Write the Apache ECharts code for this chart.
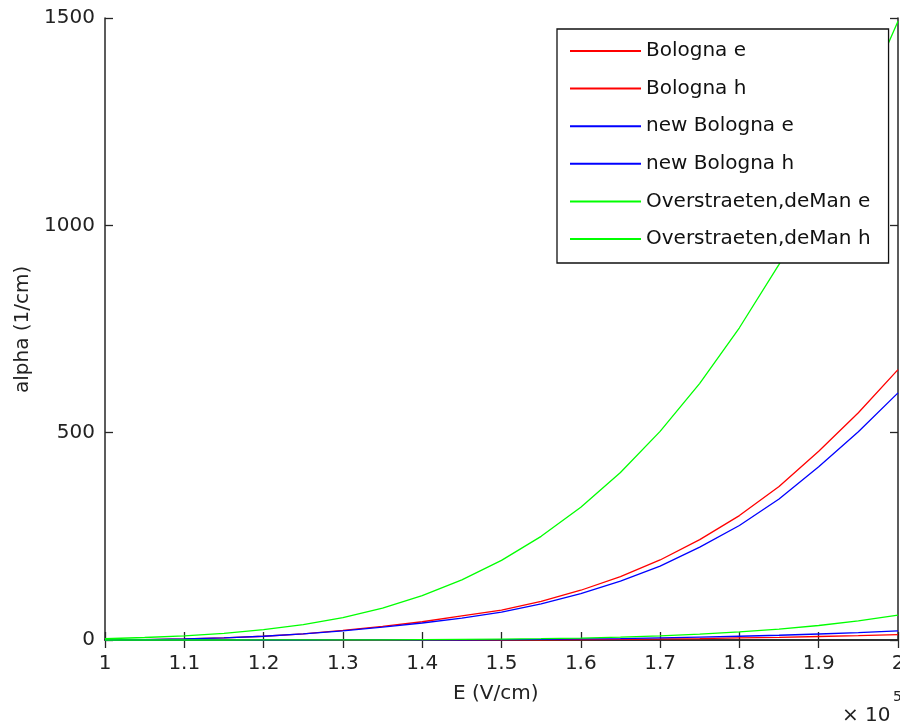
<!DOCTYPE html>
<html>
<head>
<meta charset="utf-8">
<script src="https://cdn.jsdelivr.net/npm/echarts@6/dist/echarts.min.js"></script>
<style>
  html, body { margin: 0; padding: 0; background: #fff; }
  #chart { width: 900px; height: 727px; }
</style>
</head>
<body>
<div id="chart"></div>
<script>
// Electric field samples, in units of 1e5 V/cm
const fieldE = [1.00, 1.05, 1.10, 1.15, 1.20, 1.25, 1.30, 1.35, 1.40, 1.45, 1.50,
                1.55, 1.60, 1.65, 1.70, 1.75, 1.80, 1.85, 1.90, 1.95, 2.00];

// Impact ionization coefficients alpha (1/cm)
const bolognaE = [0.5, 1, 2.5, 5, 9, 15, 23, 33, 44, 58, 72,
                  93, 120, 153, 193, 242, 300, 370, 455, 548, 652];
const bolognaH = [0, 0, 0, 0, 0, 0, 0, 0, 0.1, 0.2, 0.3,
                  0.6, 1, 1.7, 2.5, 3.5, 5, 6.5, 8.5, 10.5, 13];
const newBolognaE = [0.5, 1, 2.5, 5, 9, 15, 22, 31, 41, 53, 67,
                     87, 112, 142, 178, 224, 276, 340, 418, 502, 596];
const newBolognaH = [0, 0, 0, 0, 0, 0, 0.1, 0.2, 0.3, 0.5, 0.8,
                     1.5, 2.5, 3.5, 5, 7, 9, 11.5, 14.5, 18, 22];
const overstraetenE = [3, 6, 10, 16, 25, 37, 54, 77, 107, 145, 192,
                       250, 320, 404, 503, 619, 753, 906, 1079, 1274, 1492];
const overstraetenH = [0, 0, 0, 0, 0.1, 0.2, 0.3, 0.5, 0.8, 1.3, 2,
                       3.1, 4.7, 6.9, 10, 14, 19.4, 26, 35, 46, 60];

// Axis ticks
const xTicks = { min: 1, max: 2, step: 0.1 };
const yTicks = { min: 0, max: 1500, step: 500 };

const seriesDefs = [
  { name: 'Bologna e', values: bolognaE, color: '#ff0000' },
  { name: 'Bologna h', values: bolognaH, color: '#ff0000' },
  { name: 'new Bologna e', values: newBolognaE, color: '#0000ff' },
  { name: 'new Bologna h', values: newBolognaH, color: '#0000ff' },
  { name: 'Overstraeten,deMan e', values: overstraetenE, color: '#00ff00' },
  { name: 'Overstraeten,deMan h', values: overstraetenH, color: '#00ff00' }
];

const FONT = 'DejaVu Sans';
const AXIS_COLOR = '#262626';
const TEXT_COLOR = '#222';

function fmtTick(v) {
  return String(Math.round(v * 10) / 10);
}

const axisLine = { show: true, lineStyle: { color: AXIS_COLOR, width: 1.5 } };
const axisTick = { show: true, inside: true, length: 8, lineStyle: { color: AXIS_COLOR, width: 1.3 } };

const chart = echarts.init(document.getElementById('chart'), null, { renderer: 'canvas' });

chart.setOption({
  animation: false,
  backgroundColor: '#fff',
  grid: { left: 105, top: 18, right: 2, bottom: 87, outerBoundsMode: 'none', containLabel: false },
  xAxis: [
    {
      type: 'value', position: 'bottom',
      min: xTicks.min, max: xTicks.max, interval: xTicks.step,
      axisLine: axisLine, axisTick: axisTick, splitLine: { show: false },
      axisLabel: { color: TEXT_COLOR, fontFamily: FONT, fontSize: 20, margin: 14,
                   formatter: fmtTick, showMinLabel: true, showMaxLabel: true }
    },
    {
      type: 'value', position: 'top',
      min: xTicks.min, max: xTicks.max, interval: xTicks.step,
      axisLine: axisLine, axisTick: axisTick, splitLine: { show: false },
      axisLabel: { show: false }
    }
  ],
  yAxis: [
    {
      type: 'value', position: 'left',
      min: yTicks.min, max: yTicks.max, interval: yTicks.step,
      axisLine: axisLine, axisTick: axisTick, splitLine: { show: false },
      axisLabel: { color: TEXT_COLOR, fontFamily: FONT, fontSize: 20, margin: 10,
                   formatter: v => String(v) }
    },
    {
      type: 'value', position: 'right',
      min: yTicks.min, max: yTicks.max, interval: yTicks.step,
      axisLine: axisLine, axisTick: axisTick, splitLine: { show: false },
      axisLabel: { show: false }
    }
  ],
  legend: {
    orient: 'vertical',
    left: 557, top: 29,
    padding: [12, 18, 14, 13],
    itemWidth: 71, itemHeight: 2,
    itemGap: 17.6,
    icon: 'rect',
    backgroundColor: '#fff',
    borderColor: '#111', borderWidth: 1.3,
    textStyle: { color: '#111', fontFamily: FONT, fontSize: 20, lineHeight: 20 },
    data: seriesDefs.map(s => s.name)
  },
  series: seriesDefs.map(s => ({
    name: s.name,
    type: 'line',
    xAxisIndex: 0, yAxisIndex: 0,
    data: fieldE.map((x, i) => [x, s.values[i]]),
    showSymbol: false,
    clip: false,
    color: s.color,
    lineStyle: { color: s.color, width: 1.3 },
    emphasis: { disabled: true }
  })),
  graphic: [
    { type: 'text', x: 453, y: 684,
      style: { text: 'E (V/cm)', fill: TEXT_COLOR, font: '20px "DejaVu Sans"' } },
    { type: 'text', x: 13, y: 393, rotation: Math.PI / 2,
      style: { text: 'alpha (1/cm)', fill: TEXT_COLOR, font: '20px "DejaVu Sans"' } },
    { type: 'text', x: 842, y: 706,
      style: { text: '\u00d7 10', fill: TEXT_COLOR, font: '20px "DejaVu Sans"' } },
    { type: 'text', x: 893, y: 690,
      style: { text: '5', fill: TEXT_COLOR, font: '14px "DejaVu Sans"' } }
  ]
});
</script>
</body>
</html>
